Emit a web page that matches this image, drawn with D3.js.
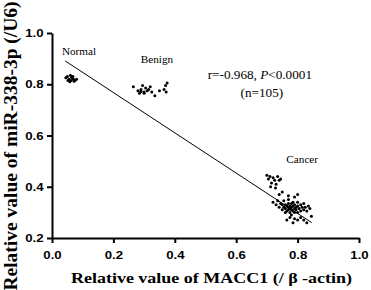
<!DOCTYPE html>
<html>
<head>
<meta charset="utf-8">
<script src="https://cdn.jsdelivr.net/npm/d3@7"></script>
<style>
  body { margin: 0; background: #fff; }
  svg { display: block; font-family: "Liberation Serif", "Times New Roman", serif; }
  .axis path, .axis line { stroke: #000; stroke-width: 2; }
  .axis text { font-size: 11px; font-weight: bold; fill: #000; }
</style>
</head>
<body>
<svg id="chart"></svg>
<script>
// Normal tissue (MACC1, miR-338-3p)
const normalPts = [[0.045,0.825],[0.050,0.830],[0.055,0.820],[0.060,0.835],[0.062,0.815],[0.058,0.810],
  [0.065,0.825],[0.070,0.820],[0.068,0.830],[0.075,0.815],[0.052,0.815],[0.063,0.828],[0.080,0.820],[0.072,0.812]];

// Benign
const benignPts = [[0.265,0.790],[0.280,0.775],[0.285,0.765],[0.290,0.780],[0.295,0.795],[0.300,0.770],
  [0.305,0.785],[0.310,0.775],[0.315,0.780],[0.320,0.790],[0.300,0.765],[0.290,0.772],[0.335,0.755],
  [0.350,0.775],[0.365,0.780],[0.370,0.795],[0.375,0.805],[0.372,0.770],[0.325,0.770]];

// Cancer
const cancerPts = [[0.700,0.445],[0.705,0.430],[0.710,0.440],[0.715,0.415],[0.720,0.435],[0.725,0.425],
  [0.730,0.410],[0.735,0.440],[0.740,0.425],[0.745,0.430],[0.712,0.400],[0.728,0.395],[0.750,0.380],[0.740,0.370],
  [0.720,0.340],[0.730,0.330],[0.735,0.345],[0.740,0.320],[0.745,0.335],[0.750,0.310],[0.750,0.330],[0.755,0.320],
  [0.755,0.345],[0.760,0.300],[0.760,0.315],[0.760,0.330],[0.765,0.325],[0.765,0.305],[0.770,0.310],[0.770,0.320],
  [0.770,0.335],[0.770,0.350],[0.775,0.300],[0.775,0.315],[0.775,0.325],[0.780,0.290],[0.780,0.310],[0.780,0.320],
  [0.780,0.335],[0.785,0.305],[0.785,0.325],[0.785,0.340],[0.790,0.300],[0.790,0.315],[0.790,0.330],[0.795,0.310],
  [0.795,0.320],[0.800,0.300],[0.800,0.325],[0.800,0.340],[0.805,0.315],[0.810,0.305],[0.810,0.330],[0.815,0.320],
  [0.820,0.310],[0.820,0.335],[0.825,0.320],[0.830,0.305],[0.835,0.325],[0.840,0.315],[0.775,0.280],[0.790,0.275],
  [0.800,0.270],[0.810,0.280],[0.765,0.270],[0.785,0.260],[0.820,0.270],[0.830,0.260],[0.845,0.285],[0.790,0.360],
  [0.800,0.370],[0.770,0.365]];

// fitted line end points
const fitX = [0.043, 0.846];
const fitY = [0.891, 0.260];

const groupLabels = [
  {text: 'Normal', x: 0.088, y: 0.914},
  {text: 'Benign', x: 0.342, y: 0.883},
  {text: 'Cancer', x: 0.815, y: 0.493}
];

const xTicks = [0.0, 0.2, 0.4, 0.6, 0.8, 1.0];
const yTicks = [0.2, 0.4, 0.6, 0.8, 1.0];

const width = 371, height = 290;
const margin = {top: 33, right: 12, bottom: 52, left: 52};
const innerW = width - margin.left - margin.right;
const innerH = height - margin.top - margin.bottom;
const stretch = 1.2; // the source figure is a little wider than tall

const svg = d3.select('#chart').attr('width', width).attr('height', height);
const chart = svg.append('g').attr('transform', `translate(${margin.left},${margin.top})`);

const xScale = d3.scaleLinear().domain([0, 1]).range([0, innerW]);
const yScale = d3.scaleLinear().domain([0.2, 1.0]).range([innerH, 0]);

const xAxis = d3.axisBottom(xScale).tickValues(xTicks).tickFormat(d3.format('.1f'))
    .tickSize(5).tickSizeOuter(0).tickPadding(8);
const yAxis = d3.axisLeft(yScale).tickValues(yTicks).tickFormat(d3.format('.1f'))
    .tickSize(5).tickSizeOuter(0).tickPadding(2);

chart.append('g').attr('class', 'axis').attr('transform', `translate(0,${innerH})`).call(xAxis)
  .selectAll('.tick text').attr('transform', `scale(${stretch},1)`);
chart.append('g').attr('class', 'axis').call(yAxis)
  .selectAll('.tick text').attr('transform', `scale(${stretch},1)`);

// regression line
chart.append('line')
    .attr('x1', xScale(fitX[0])).attr('y1', yScale(fitY[0]))
    .attr('x2', xScale(fitX[1])).attr('y2', yScale(fitY[1]))
    .attr('stroke', '#000').attr('stroke-width', 1);

// points
const allPts = normalPts.concat(benignPts, cancerPts);
chart.selectAll('.dot')
    .data(allPts)
  .join('circle')
    .attr('class', 'dot')
    .attr('cx', d => xScale(d[0]))
    .attr('cy', d => yScale(d[1]))
    .attr('r', 1.5)
    .attr('fill', '#000');

// group labels
chart.selectAll('.glabel')
    .data(groupLabels)
  .join('text')
    .attr('class', 'glabel')
    .attr('transform', d => `translate(${xScale(d.x)},${yScale(d.y)}) scale(1.12,1)`)
    .attr('text-anchor', 'middle')
    .attr('font-size', '10px')
    .text(d => d.text);

// statistics
const stat = chart.append('text')
    .attr('transform', `translate(${xScale(0.69) - 4},${yScale(0.82)}) scale(1.1,1)`)
    .attr('text-anchor', 'middle')
    .attr('font-size', '12px');
stat.append('tspan').text('r=-0.968, ');
stat.append('tspan').attr('font-style', 'italic').text('P');
stat.append('tspan').text('<0.0001');
chart.append('text')
    .attr('transform', `translate(${xScale(0.69) - 2},${yScale(0.75)}) scale(1.1,1)`)
    .attr('text-anchor', 'middle')
    .attr('font-size', '12px')
    .text('(n=105)');

// axis titles
svg.append('text')
    .attr('transform', `translate(${margin.left + innerW / 2 + 6},283) scale(${stretch},1)`)
    .attr('text-anchor', 'middle')
    .attr('font-size', '15px')
    .attr('font-weight', 'bold')
    .text('Relative value of MACC1 (/ β -actin)');

svg.append('text')
    .attr('transform', 'translate(17,146) rotate(-90)')
    .attr('text-anchor', 'middle')
    .attr('font-size', '19.5px')
    .attr('font-weight', 'bold')
    .text('Relative value of miR-338-3p (/U6)');
</script>
</body>
</html>
